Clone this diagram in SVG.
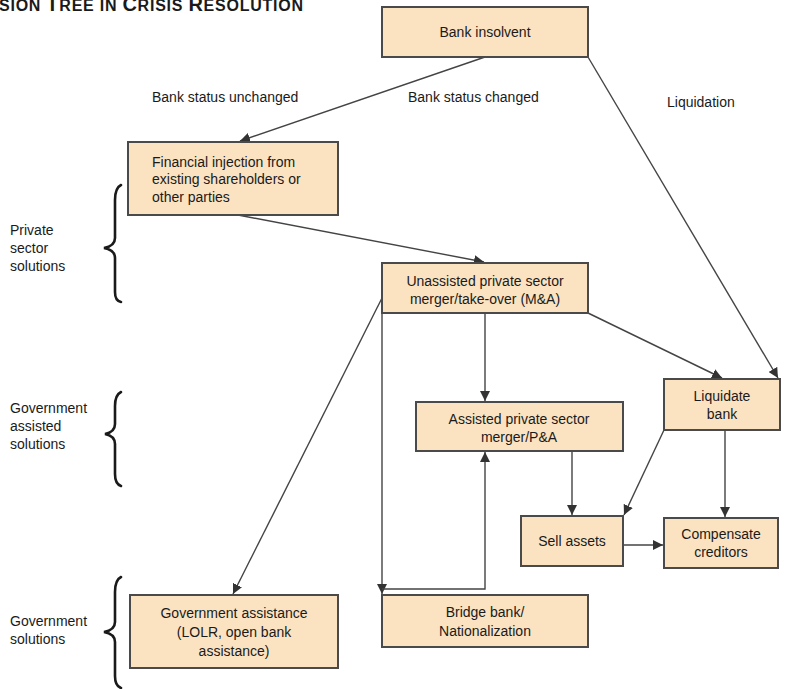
<svg xmlns="http://www.w3.org/2000/svg" width="787" height="689" viewBox="0 0 787 689">
<defs>
<style>
.box{fill:#FBE3C2;stroke:#4a4a4a;stroke-width:2}
.t{font-family:"Liberation Sans",Arial,sans-serif;font-size:14px;fill:#1a1a1a}
.c{text-anchor:middle}
.ln{fill:none;stroke:#444;stroke-width:1.4}
.br{fill:none;stroke:#1a1a1a;stroke-width:2.6;stroke-linecap:round}
.title{font-family:"Liberation Sans",Arial,sans-serif;font-size:16px;font-weight:bold;fill:#1a1a1a}
.big{font-size:20px}
</style>
<marker id="ah" viewBox="0 0 10 10" refX="10" refY="5" markerWidth="10" markerHeight="10" markerUnits="userSpaceOnUse" orient="auto">
<path d="M0,0 L10,5 L0,10 z" fill="#333"/>
</marker>
</defs>
<rect width="787" height="689" fill="#fff"/>
<text class="title" x="-1" y="11" textLength="304" lengthAdjust="spacing">SION <tspan class="big">T</tspan>REE IN <tspan class="big">C</tspan>RISIS <tspan class="big">R</tspan>ESOLUTION</text>

<g id="connectors">
<line class="ln" x1="485" y1="57" x2="240" y2="141" marker-end="url(#ah)"/>
<line class="ln" x1="588" y1="57" x2="778" y2="378" marker-end="url(#ah)"/>
<line class="ln" x1="238" y1="215" x2="484" y2="262" marker-end="url(#ah)"/>
<line class="ln" x1="382" y1="298" x2="233" y2="594" marker-end="url(#ah)"/>
<line class="ln" x1="485" y1="313" x2="485" y2="401" marker-end="url(#ah)"/>
<line class="ln" x1="382" y1="313" x2="382" y2="594" marker-end="url(#ah)"/>
<polyline class="ln" points="382,589 485,589 485,452" marker-end="url(#ah)"/>
<line class="ln" x1="588" y1="313" x2="722" y2="378" marker-end="url(#ah)"/>
<line class="ln" x1="572" y1="451" x2="572" y2="515" marker-end="url(#ah)"/>
<line class="ln" x1="664" y1="430" x2="624" y2="515" marker-end="url(#ah)"/>
<line class="ln" x1="725" y1="430" x2="725" y2="517" marker-end="url(#ah)"/>
<line class="ln" x1="623" y1="545" x2="663" y2="545" marker-end="url(#ah)"/>
</g>

<g id="edge-labels">
<text class="t" x="152" y="102">Bank status unchanged</text>
<text class="t" x="408" y="102">Bank status changed</text>
<text class="t" x="667" y="107">Liquidation</text>
</g>

<g id="bank-insolvent">
<rect class="box" x="382" y="7" width="206" height="50"/>
<text class="t c" x="485" y="37">Bank insolvent</text>
</g>
<g id="financial-injection">
<rect class="box" x="128" y="142" width="210" height="73"/>
<text class="t" x="152" y="167">Financial injection from</text>
<text class="t" x="152" y="184">existing shareholders or</text>
<text class="t" x="152" y="202">other parties</text>
</g>
<g id="unassisted">
<rect class="box" x="382" y="263" width="206" height="50"/>
<text class="t c" x="485" y="286">Unassisted private sector</text>
<text class="t c" x="485" y="304">merger/take-over (M&amp;A)</text>
</g>
<g id="assisted">
<rect class="box" x="416" y="402" width="207" height="49"/>
<text class="t c" x="519" y="424">Assisted private sector</text>
<text class="t c" x="519" y="442">merger/P&amp;A</text>
</g>
<g id="liquidate-bank">
<rect class="box" x="664" y="379" width="116" height="51"/>
<text class="t c" x="722" y="401">Liquidate</text>
<text class="t c" x="722" y="419">bank</text>
</g>
<g id="sell-assets">
<rect class="box" x="521" y="516" width="102" height="50"/>
<text class="t c" x="572" y="546">Sell assets</text>
</g>
<g id="compensate-creditors">
<rect class="box" x="664" y="518" width="114" height="50"/>
<text class="t c" x="721" y="539">Compensate</text>
<text class="t c" x="721" y="557">creditors</text>
</g>
<g id="government-assistance">
<rect class="box" x="130" y="595" width="208" height="73"/>
<text class="t c" x="234" y="618">Government assistance</text>
<text class="t c" x="234" y="637">(LOLR, open bank</text>
<text class="t c" x="234" y="656">assistance)</text>
</g>
<g id="bridge-bank">
<rect class="box" x="382" y="595" width="206" height="52"/>
<text class="t c" x="485" y="617">Bridge bank/</text>
<text class="t c" x="485" y="636">Nationalization</text>
</g>

<g id="private-sector">
<path class="br" d="M121,185 Q115,188 115,200 L115,238 Q115,246 104,248 Q115,250 115,258 L115,292 Q115,301 121,302"/>
<text class="t" x="10" y="235">Private</text>
<text class="t" x="10" y="253">sector</text>
<text class="t" x="10" y="271">solutions</text>
</g>
<g id="government-assisted">
<path class="br" d="M121,392 Q115,395 115,406 L115,424 Q115,432 105,434 Q115,436 115,444 L115,474 Q115,484 121,486"/>
<text class="t" x="10" y="413">Government</text>
<text class="t" x="10" y="431">assisted</text>
<text class="t" x="10" y="449">solutions</text>
</g>
<g id="government-solutions">
<path class="br" d="M121,577 Q115,580 115,592 L115,622 Q115,630 104,632 Q115,634 115,642 L115,676 Q115,686 121,688"/>
<text class="t" x="10" y="626">Government</text>
<text class="t" x="10" y="644">solutions</text>
</g>
</svg>
